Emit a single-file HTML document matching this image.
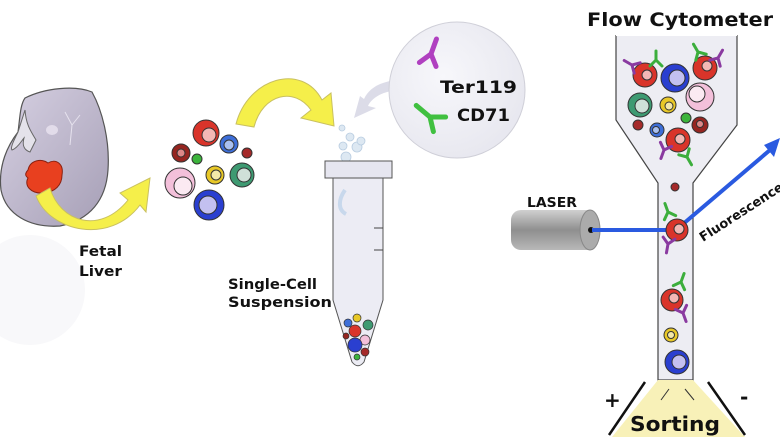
<!DOCTYPE html>
<html><head><meta charset="utf-8"><style>
html,body{margin:0;padding:0;background:#fff;}
svg{display:block;}
text{font-family:"DejaVu Sans","Liberation Sans",Arial,sans-serif;font-weight:bold;fill:#111;}
</style></head><body>
<svg width="780" height="440" viewBox="0 0 780 440" xmlns="http://www.w3.org/2000/svg">
<defs>
<linearGradient id="fet" x1="0" y1="0" x2="1" y2="1"><stop offset="0" stop-color="#d6d0e2"/><stop offset="1" stop-color="#a69fb6"/></linearGradient>
<linearGradient id="las" x1="0" y1="0" x2="0" y2="1"><stop offset="0" stop-color="#d0d0d0"/><stop offset="0.5" stop-color="#8f8f8f"/><stop offset="1" stop-color="#b8b8b8"/></linearGradient>
<radialGradient id="circ" cx="0.4" cy="0.4" r="0.7"><stop offset="0" stop-color="#f7f7fb"/><stop offset="1" stop-color="#e6e6ee"/></radialGradient>
<g id="ab"><path d="M0 0 L0 -9 M0 0 L-6 6 M0 0 L6 6" stroke-width="3" fill="none" stroke-linecap="round"/></g>
</defs>
<rect width="780" height="440" fill="#fff"/>
<!-- fetus reflection -->
<ellipse cx="30" cy="290" rx="55" ry="55" fill="#f8f8fa"/>
<!-- fetus -->
<path d="M25 98 C45 88 75 85 92 92 C102 110 110 140 108 170 C106 200 90 220 60 226 C30 228 6 215 1 190 C-2 165 8 145 18 132 C20 118 20 105 25 98 Z" fill="url(#fet)" stroke="#555" stroke-width="1.2"/>
<path d="M18 132 C14 140 10 148 12 150 C18 148 22 140 24 138 C22 145 24 150 30 152 L36 140 C30 130 26 124 25 110 Z" fill="#e4e2ea" stroke="#666" stroke-width="1"/>
<ellipse cx="52" cy="130" rx="6" ry="5" fill="#e2dcea"/>
<path d="M65 112 L72 125 L70 145 M72 125 L80 115" stroke="#e6e2ee" stroke-width="1" fill="none"/>
<path d="M28 170 C30 160 42 158 48 163 C56 158 64 164 62 175 C62 185 55 192 44 193 C30 194 24 185 28 178 C24 175 26 172 28 170 Z" fill="#e8401f" stroke="#8a2010" stroke-width="1"/>
<!-- yellow arrow 1 -->
<path d="M50 188 C60 222 100 235 128 200 L120 193 L150 178 L146 212 L140 205 C110 245 50 232 36 196 Z" fill="#f5ef4a" stroke="#c9c060" stroke-width="1"/>
<!-- cells cluster -->
<g stroke="#333" stroke-width="1">
<circle cx="206" cy="133" r="13" fill="#d9342a"/><circle cx="209" cy="135" r="7" fill="#f3b8b5"/>
<circle cx="229" cy="144" r="9" fill="#3d6ed8"/><circle cx="229" cy="145" r="5" fill="#a9c0f0"/>
<circle cx="181" cy="153" r="9" fill="#952520"/><circle cx="181" cy="153" r="4" fill="#d88"/>
<circle cx="197" cy="159" r="5" fill="#3cb43c"/>
<circle cx="247" cy="153" r="5" fill="#a52a2a"/>
<circle cx="180" cy="183" r="15" fill="#f3c0da"/><circle cx="183" cy="186" r="9" fill="#fbeaf2"/>
<circle cx="215" cy="175" r="9" fill="#e8c828"/><circle cx="216" cy="175" r="5" fill="#f3e8a8"/>
<circle cx="242" cy="175" r="12" fill="#3e9a72"/><circle cx="244" cy="175" r="7" fill="#cfe0d8"/>
<circle cx="209" cy="205" r="15" fill="#2a3fd0"/><circle cx="208" cy="205" r="9" fill="#c3c0f0"/>
</g>
<!-- yellow arrow 2 -->
<path d="M236 124 C248 78 302 62 322 100 L331 93 L334 126 L301 118 L311 110 C295 87 263 93 254 127 Z" fill="#f5ef4a" stroke="#c9c060" stroke-width="1"/>
<!-- grey arrow -->
<path d="M402 90 C385 90 372 97 368 106 L376 108 L354 118 L360 96 L364 99 C370 86 385 80 402 80 Z" fill="#dcdce8"/>
<!-- antibody circle -->
<circle cx="457" cy="90" r="68" fill="url(#circ)" stroke="#cfcfd8" stroke-width="1"/>
<g stroke="#b040c0" transform="translate(431,54) rotate(20)"><path d="M0 0 L0 -16 M0 0 L-8 12 M0 0 L9 10" stroke-width="5" fill="none" stroke-linecap="round"/></g>
<g stroke="#40c040" transform="translate(430,117) rotate(-50)"><path d="M0 0 L0 -18 M0 0 L-9 12 M0 0 L10 12" stroke-width="5" fill="none" stroke-linecap="round"/></g>
<text x="440" y="93" font-size="17" textLength="77" lengthAdjust="spacingAndGlyphs">Ter119</text>
<text x="457" y="121" font-size="17" textLength="53" lengthAdjust="spacingAndGlyphs">CD71</text>
<!-- bubbles -->
<g fill="#dde8f2" stroke="#b8cce0" stroke-width="0.8">
<circle cx="342" cy="128" r="3"/><circle cx="350" cy="137" r="4"/><circle cx="343" cy="146" r="4"/><circle cx="357" cy="147" r="5"/><circle cx="361" cy="141" r="4"/><circle cx="346" cy="157" r="5"/>
</g>
<!-- tube -->
<path d="M333 178 L383 178 L383 300 L364 362 C360 367 356 367 352 362 L333 300 Z" fill="#ececf4" stroke="#555" stroke-width="1"/>
<rect x="325" y="161" width="67" height="17" fill="#e6e6f0" stroke="#555" stroke-width="1"/>
<path d="M374 228 L383 228 M374 250 L383 250" stroke="#444" stroke-width="1"/>
<path d="M345 190 C338 200 338 210 346 214" stroke="#c8d8ec" stroke-width="4" fill="none"/>
<g stroke="#333" stroke-width="0.7">
<circle cx="348" cy="323" r="4" fill="#3d6ed8"/><circle cx="357" cy="318" r="4" fill="#e8c828"/><circle cx="368" cy="325" r="5" fill="#3e9a72"/>
<circle cx="355" cy="331" r="6" fill="#d9342a"/><circle cx="365" cy="340" r="5" fill="#f3c0da"/><circle cx="355" cy="345" r="7" fill="#2a3fd0"/>
<circle cx="365" cy="352" r="4" fill="#a52a2a"/><circle cx="357" cy="357" r="3" fill="#3cb43c"/><circle cx="346" cy="336" r="3" fill="#952520"/>
</g>
<!-- labels -->
<text x="79" y="256" font-size="14" textLength="43" lengthAdjust="spacingAndGlyphs">Fetal</text>
<text x="79" y="276" font-size="14" textLength="43" lengthAdjust="spacingAndGlyphs">Liver</text>
<text x="228" y="289" font-size="14" textLength="89" lengthAdjust="spacingAndGlyphs">Single-Cell</text>
<text x="228" y="307" font-size="14" textLength="104" lengthAdjust="spacingAndGlyphs">Suspension</text>
<text x="587" y="26" font-size="19" textLength="186" lengthAdjust="spacingAndGlyphs">Flow Cytometer</text>
<!-- cytometer -->
<path d="M616 35 L616 120 L658 183 L658 380 L693 380 L693 183 L737 125 L737 35" fill="#ededf3" stroke="#444" stroke-width="1.2"/>
<path d="M616 35 L737 35" stroke="#fff" stroke-width="2"/>
<!-- sorting -->
<path d="M658 380 L693 380 L745 437 L612 437 Z" fill="#f8f1b8"/>
<path d="M609 435 L645 382 M708 382 L745 435" stroke="#111" stroke-width="2.5"/>
<path d="M669 389 L661 400 M685 389 L694 400" stroke="#333" stroke-width="1"/>
<text x="604" y="407" font-size="20">+</text>
<text x="740" y="404" font-size="20">-</text>
<text x="630" y="431" font-size="20" textLength="90" lengthAdjust="spacingAndGlyphs">Sorting</text>
<!-- laser -->
<rect x="511" y="210" width="85" height="40" rx="10" fill="url(#las)"/>
<ellipse cx="590" cy="230" rx="10" ry="20" fill="#ababab" stroke="#888"/>
<circle cx="591" cy="230" r="3" fill="#111"/>
<text x="527" y="207" font-size="13" textLength="50" lengthAdjust="spacingAndGlyphs">LASER</text>
<path d="M592 230 L676 230 L770 150" stroke="#2a5ae0" stroke-width="4" fill="none"/>
<path d="M780 138 L764 145 L774 157 Z" fill="#2a5ae0"/>
<text x="0" y="0" font-size="13" transform="translate(703,242) rotate(-33)">Fluorescence</text>
<!-- cytometer cells -->
<g stroke="#333" stroke-width="1">
<circle cx="645" cy="75" r="12" fill="#d9342a"/><circle cx="647" cy="75" r="5" fill="#f3b8b5"/>
<circle cx="675" cy="78" r="14" fill="#2a3fd0"/><circle cx="677" cy="78" r="8" fill="#c3c0f0"/>
<circle cx="705" cy="68" r="12" fill="#d9342a"/><circle cx="707" cy="66" r="5" fill="#f3b8b5"/>
<circle cx="640" cy="105" r="12" fill="#3e9a72"/><circle cx="642" cy="106" r="7" fill="#cfe0d8"/>
<circle cx="668" cy="105" r="8" fill="#e8c828"/><circle cx="669" cy="106" r="4" fill="#f3e8a8"/>
<circle cx="700" cy="97" r="14" fill="#f3c0da"/><circle cx="697" cy="94" r="8" fill="#fbeaf2"/>
<circle cx="686" cy="118" r="5" fill="#3cb43c"/>
<circle cx="638" cy="125" r="5" fill="#a52a2a"/>
<circle cx="657" cy="130" r="7" fill="#3d6ed8"/><circle cx="656" cy="130" r="3.5" fill="#a9c0f0"/>
<circle cx="700" cy="125" r="8" fill="#952520"/><circle cx="700" cy="124" r="3.5" fill="#d88"/>
<circle cx="678" cy="140" r="12" fill="#d9342a"/><circle cx="680" cy="139" r="5" fill="#f3b8b5"/>
<circle cx="675" cy="187" r="4" fill="#a52a2a"/>
<circle cx="677" cy="230" r="11" fill="#d9342a"/><circle cx="679" cy="229" r="5" fill="#f3b8b5"/>
<circle cx="672" cy="300" r="11" fill="#d9342a"/><circle cx="674" cy="298" r="5" fill="#f3b8b5"/>
<circle cx="671" cy="335" r="7" fill="#e8c828"/><circle cx="671" cy="335" r="3.5" fill="#f3e8a8"/>
<circle cx="677" cy="362" r="12" fill="#2a3fd0"/><circle cx="679" cy="362" r="7" fill="#c3c0f0"/>
</g>
<g fill="none" stroke-width="2.5" stroke-linecap="round">
<use href="#ab" stroke="#3cae3c" transform="translate(656,60) rotate(0)"/>
<use href="#ab" stroke="#8a3aa0" transform="translate(632,65) rotate(-60)"/>
<use href="#ab" stroke="#3cae3c" transform="translate(698,52) rotate(-30)"/>
<use href="#ab" stroke="#8a3aa0" transform="translate(718,58) rotate(30)"/>
<use href="#ab" stroke="#8a3aa0" transform="translate(664,150) rotate(200)"/>
<use href="#ab" stroke="#3cae3c" transform="translate(687,157) rotate(150)"/>
<use href="#ab" stroke="#3cae3c" transform="translate(668,212) rotate(-20)"/>
<use href="#ab" stroke="#8a3aa0" transform="translate(668,244) rotate(190)"/>
<use href="#ab" stroke="#3cae3c" transform="translate(681,282) rotate(20)"/>
<use href="#ab" stroke="#8a3aa0" transform="translate(683,313) rotate(160)"/>
</g>
</svg>
</body></html>
